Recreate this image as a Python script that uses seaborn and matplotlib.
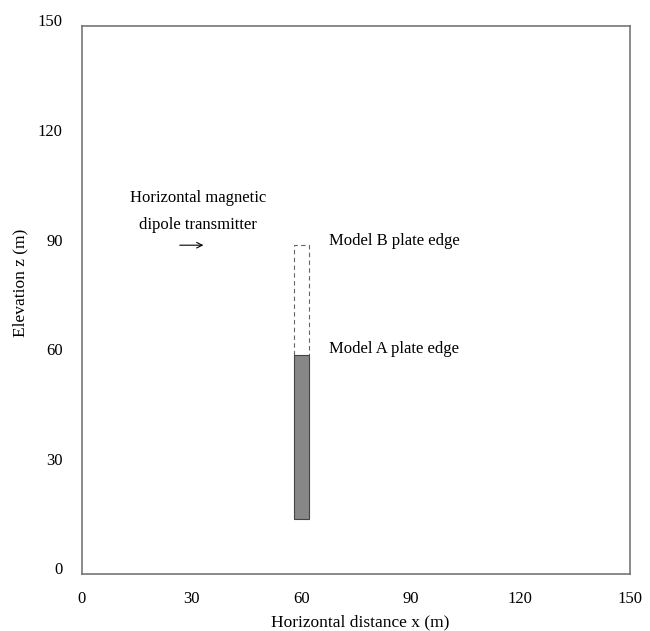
import numpy as np
import pandas as pd
import seaborn as sns
import matplotlib.pyplot as plt
import matplotlib.transforms as mtransforms

# plate geometry (m)
plate_x = [58, 62]
plate_a_z = [15, 60]
plate_b_z = [60, 90]

# transmitter arrow
tx_x = [26, 34]
tx_z = 90

xticks = [0, 30, 60, 90, 120, 150]
yticks = [0, 30, 60, 90, 120, 150]

sns.set_style("white")
plt.rcParams['font.family'] = ['Liberation Serif', 'DejaVu Serif']
plt.rcParams['text.color'] = 'black'
plt.rcParams['xtick.color'] = 'black'
plt.rcParams['ytick.color'] = 'black'
plt.rcParams['axes.labelcolor'] = 'black'

fig = plt.figure(figsize=(6.5, 6.31), dpi=100)
ax = fig.add_axes([82 / 650, 57 / 631, 548 / 650, 548 / 631])

# model A plate (solid)
ax.bar(np.mean(plate_x), plate_a_z[1] - plate_a_z[0], bottom=plate_a_z[0],
       width=plate_x[1] - plate_x[0], color="#878787", edgecolor="#444444",
       linewidth=0.8, zorder=3)

# model B plate extension (dashed outline)
outline = pd.DataFrame({
    "x": [plate_x[0], plate_x[0], plate_x[1], plate_x[1]],
    "z": [plate_b_z[0], plate_b_z[1], plate_b_z[1], plate_b_z[0]],
})
sns.lineplot(data=outline, x="x", y="z", sort=False, estimator=None, ax=ax,
             color="#666666", linewidth=0.8, linestyle=(0, (4, 3)))

ax.annotate("", xy=(tx_x[1], tx_z), xytext=(tx_x[0], tx_z),
            arrowprops=dict(arrowstyle="->", color="black", lw=0.8))
ax.text(31.8, 103, "Horizontal magnetic", ha="center", va="center", fontsize=12)
ax.text(31.8, 95.5, "dipole transmitter", ha="center", va="center", fontsize=12)
ax.text(67.5, 91.2, "Model B plate edge", ha="left", va="center", fontsize=12)
ax.text(67.5, 61.5, "Model A plate edge", ha="left", va="center", fontsize=12)

ax.set_xlim(0, 150)
ax.set_ylim(0, 150)
ax.set_xticks(xticks)
ax.set_yticks(yticks)
ax.tick_params(labelsize=12, length=0)
ax.tick_params(axis="x", pad=12.5)
ax.tick_params(axis="y", pad=14)
shift = mtransforms.ScaledTranslation(0, 4 / 72, fig.dpi_scale_trans)
for lab in ax.get_yticklabels():
    lab.set_transform(lab.get_transform() + shift)

ax.set_xlabel("Horizontal distance x (m)", fontsize=12.5)
ax.set_ylabel("Elevation z (m)", fontsize=12.5)
ax.xaxis.set_label_coords(0.507, -0.074)
ax.yaxis.set_label_coords(-0.0985, 0.531)
for s in ax.spines.values():
    s.set_color("#777777")
    s.set_linewidth(1.2)

fig.savefig("out.png", dpi=100)
